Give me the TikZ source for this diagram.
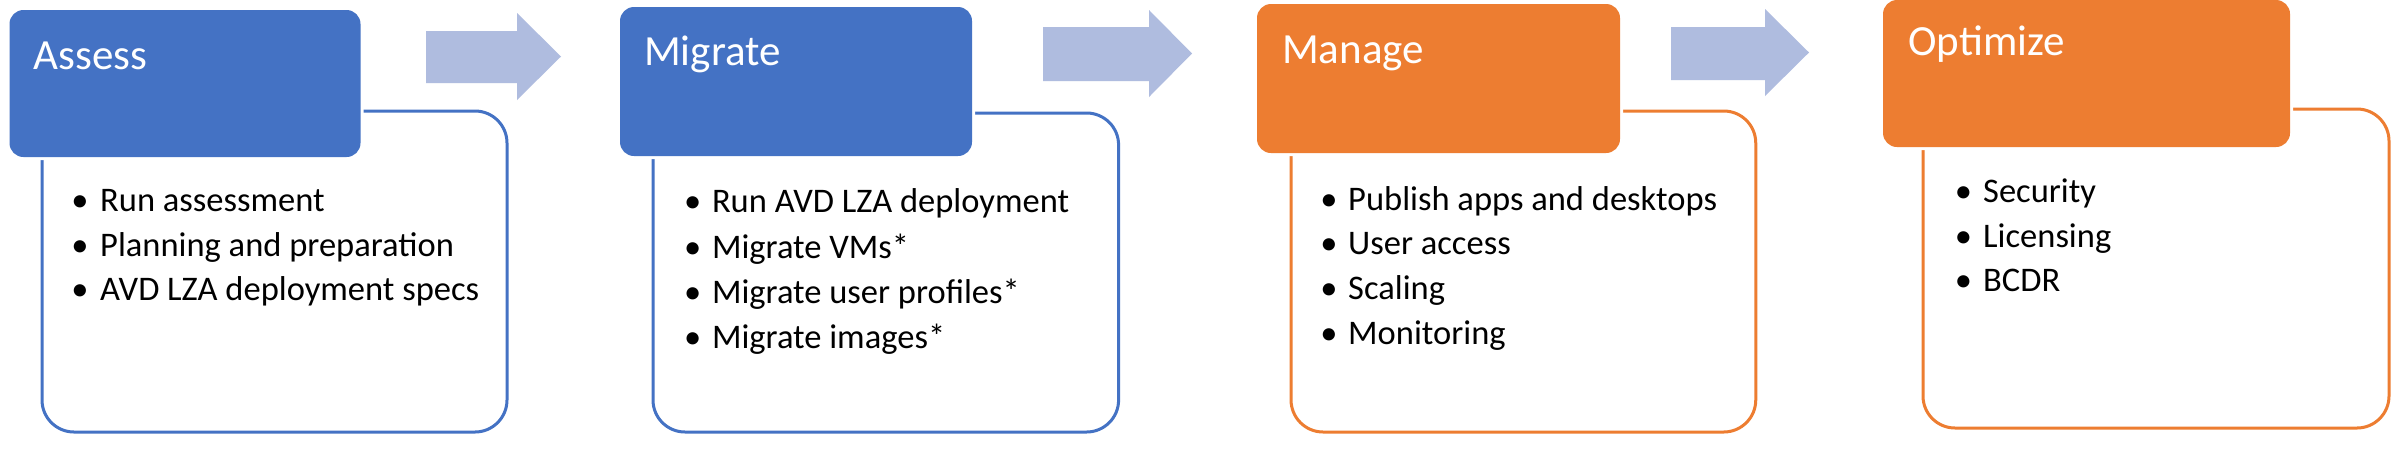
\documentclass[tikz,border=0pt]{standalone}
\usepackage{fontspec}
\setmainfont{Carlito}
\definecolor{hblue}{HTML}{4472C4}
\definecolor{horange}{HTML}{ED7D31}
\definecolor{arrowfill}{HTML}{AFBCDF}
\tikzset{
  headbox/.style={rectangle, rounded corners=14pt, inner sep=0pt, outer sep=0pt,
    preaction={draw=white, line width=6pt}},
  contentbox/.style={rectangle, rounded corners=32pt, draw, line width=3pt, fill=white,
    inner sep=0pt, outer sep=0pt},
  titletext/.style={anchor=base west, inner sep=0pt, text=white,
    font=\fontsize{43}{50}\selectfont},
  itemtext/.style={anchor=base west, inner sep=0pt, text=black,
    font=\fontsize{34.5}{40}\selectfont},
  bulletdot/.style={anchor=base, inner sep=0pt, text=black,
    font=\fontsize{34.5}{40}\selectfont},
  flowarrow/.style={fill=arrowfill}
}
\begin{document}
\begin{tikzpicture}[x=1pt,y=-1pt]
\useasboundingbox[fill=white] (0,0) rectangle (2398,451);

% arrows
\fill[flowarrow] (426,31) -- (517,31) -- (517,13) -- (561,56.5) -- (517,100) -- (517,83) -- (426,83) -- cycle;
\fill[flowarrow] (1043,27) -- (1149,27) -- (1149,10) -- (1192,53.5) -- (1149,97) -- (1149,81) -- (1043,81) -- cycle;
\fill[flowarrow] (1671,27) -- (1765,27) -- (1765,9) -- (1809,52.5) -- (1765,96) -- (1765,80) -- (1671,80) -- cycle;

% content boxes
\node[contentbox, draw=hblue, minimum width=465pt, minimum height=321pt] (assessC) at (274.5,271.5) {};
\node[contentbox, draw=hblue, minimum width=465.6pt, minimum height=319pt] (migrateC) at (885.8,272.5) {};
\node[contentbox, draw=horange, minimum width=464.7pt, minimum height=321pt] (manageC) at (1523.4,271.5) {};
\node[contentbox, draw=horange, minimum width=466pt, minimum height=319pt] (optimizeC) at (2156,268.5) {};

% header boxes
\node[headbox, fill=hblue, minimum width=351pt, minimum height=147pt] (assessH) at (185,83.5) {};
\node[headbox, fill=hblue, minimum width=352pt, minimum height=149pt] (migrateH) at (796,81.5) {};
\node[headbox, fill=horange, minimum width=363pt, minimum height=149pt] (manageH) at (1438.5,78.5) {};
\node[headbox, fill=horange, minimum width=407pt, minimum height=147pt] (optimizeH) at (2086.5,73.5) {};

% titles
\node[titletext] (assessT) at (33.7,69) {Assess};
\node[titletext] (migrateT) at (644,65) {Migrate};
\node[titletext] (manageT) at (1282,63) {Manage};
\node[titletext] (optimizeT) at (1908,55) {Optimize};

% Assess items
\node[bulletdot] (a1b) at (80,211) {•};
\node[itemtext] (a1) at (100,211) {Run assessment};
\node[bulletdot] (a2b) at (80,256) {•};
\node[itemtext] (a2) at (100,256) {Planning and preparation};
\node[bulletdot] (a3b) at (80,300) {•};
\node[itemtext] (a3) at (100,300) {AVD LZA deployment specs};

% Migrate items
\node[bulletdot] (b1b) at (692.6,212) {•};
\node[itemtext] (b1) at (711.8,212) {Run AVD LZA deployment};
\node[bulletdot] (b2b) at (692.6,258) {•};
\node[itemtext] (b2) at (711.8,258) {Migrate VMs*};
\node[bulletdot] (b3b) at (692.6,303) {•};
\node[itemtext] (b3) at (711.8,303) {Migrate user profiles*};
\node[bulletdot] (b4b) at (692.6,348) {•};
\node[itemtext] (b4) at (711.8,348) {Migrate images*};

% Manage items
\node[bulletdot] (c1b) at (1329,210) {•};
\node[itemtext] (c1) at (1348,210) {Publish apps and desktops};
\node[bulletdot] (c2b) at (1329,254) {•};
\node[itemtext] (c2) at (1348,254) {User access};
\node[bulletdot] (c3b) at (1329,299) {•};
\node[itemtext] (c3) at (1348,299) {Scaling};
\node[bulletdot] (c4b) at (1329,344) {•};
\node[itemtext] (c4) at (1348,344) {Monitoring};

% Optimize items
\node[bulletdot] (d1b) at (1963.5,202) {•};
\node[itemtext] (d1) at (1983,202) {Security};
\node[bulletdot] (d2b) at (1963.5,247) {•};
\node[itemtext] (d2) at (1983,247) {Licensing};
\node[bulletdot] (d3b) at (1963.5,291) {•};
\node[itemtext] (d3) at (1983,291) {BCDR};
\end{tikzpicture}
\end{document}
